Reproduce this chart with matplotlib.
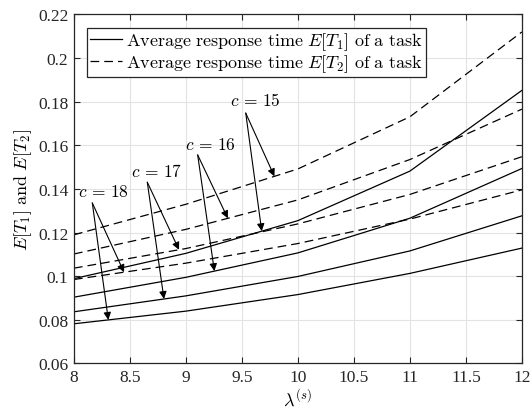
import numpy as np
import matplotlib
matplotlib.use("Agg")
import matplotlib.pyplot as plt

plt.rcParams['font.family'] = 'serif'
plt.rcParams['font.serif'] = ['Liberation Serif', 'DejaVu Serif']
plt.rcParams['mathtext.fontset'] = 'cm'

# arrival rate lambda^(s)
lam = [8, 9, 10, 11, 12]
servers = [15, 16, 17, 18]

# E[T1] (solid), one list per c
t1_c15 = [0.0989, 0.1105, 0.1255, 0.1482, 0.1852]
t1_c16 = [0.0904, 0.0995, 0.1107, 0.1266, 0.1494]
t1_c17 = [0.0837, 0.0910, 0.0999, 0.1116, 0.1277]
t1_c18 = [0.0782, 0.0840, 0.0916, 0.1013, 0.1129]

# E[T2] (dashed)
t2_c15 = [0.1190, 0.1330, 0.1492, 0.1731, 0.2120]
t2_c16 = [0.1102, 0.1215, 0.1350, 0.1535, 0.1766]
t2_c17 = [0.1037, 0.1127, 0.1240, 0.1375, 0.1548]
t2_c18 = [0.0985, 0.1060, 0.1150, 0.1262, 0.1396]

t1 = [t1_c15, t1_c16, t1_c17, t1_c18]
t2 = [t2_c15, t2_c16, t2_c17, t2_c18]

# annotation: text position, arrow start, arrow tip x on dashed / solid curve
label_xy = [(9.62, 0.1806), (9.215, 0.1602), (8.74, 0.148), (8.26, 0.1388)]
arrow_from = [(9.534, 0.1748), (9.105, 0.1556), (8.655, 0.1431), (8.164, 0.1336)]
tip_dashed_x = [9.79, 9.374, 8.938, 8.447]
tip_solid_x = [9.677, 9.254, 8.804, 8.307]

fig = plt.figure(figsize=(5.32, 4.14), dpi=100)
ax = fig.add_axes([0.139, 0.1196, 0.842, 0.843])

for i in range(len(servers)):
    ax.plot(lam, t1[i], color='black', lw=0.9,
            label=r'$\mathrm{Average\ response\ time}\ E[T_1]\ \mathrm{of\ a\ task}$' if i == 0 else None)
    ax.plot(lam, t2[i], color='black', lw=0.9, dashes=(7, 4),
            label=r'$\mathrm{Average\ response\ time}\ E[T_2]\ \mathrm{of\ a\ task}$' if i == 0 else None)

for i, c in enumerate(servers):
    ax.text(label_xy[i][0], label_xy[i][1], r'$c\,=\,%d$' % c, fontsize=12.5,
            ha='center', va='center')
    yd = np.interp(tip_dashed_x[i], lam, t2[i])
    ys = np.interp(tip_solid_x[i], lam, t1[i])
    for tx, ty in [(tip_dashed_x[i], yd), (tip_solid_x[i], ys)]:
        ax.annotate('', xy=(tx, ty), xytext=arrow_from[i],
                    arrowprops=dict(arrowstyle='-|>', color='black', lw=0.8,
                                    mutation_scale=11, shrinkA=0, shrinkB=0))

ax.set_xlim(8, 12)
ax.set_ylim(0.06, 0.22)
ax.set_xticks(np.arange(8, 12.01, 0.5))
ax.set_xticklabels(['8', '8.5', '9', '9.5', '10', '10.5', '11', '11.5', '12'])
ax.set_yticks(np.arange(0.06, 0.2201, 0.02))
ax.set_yticklabels(['0.06', '0.08', '0.1', '0.12', '0.14', '0.16', '0.18', '0.2', '0.22'])
ax.tick_params(direction='in', top=True, right=True, labelsize=12.5,
               colors='#262626', length=4, width=0.8, pad=4)
ax.grid(True, color='#e3e3e3', lw=0.8)
ax.set_axisbelow(True)
for s in ax.spines.values():
    s.set_color('#262626')
    s.set_linewidth(0.9)

ax.set_xlabel(r'$\lambda^{(s)}$', fontsize=13, labelpad=2)
ax.set_ylabel(r'$E[T_1]\ \mathrm{and}\ E[T_2]$', fontsize=13, labelpad=3)

leg = ax.legend(loc='upper left', fontsize=13, handlelength=1.75, handletextpad=0.25,
                borderpad=0.15, labelspacing=0.0, fancybox=False, framealpha=1,
                borderaxespad=0.75)
leg.get_frame().set_edgecolor('#262626')
leg.get_frame().set_linewidth(0.9)

fig.savefig('out.png', dpi=100)
